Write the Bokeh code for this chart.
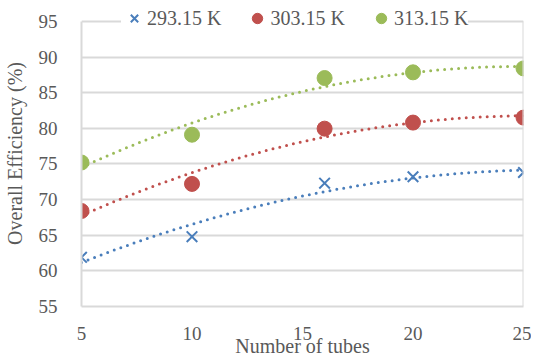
import numpy as np
from bokeh.plotting import figure
from bokeh.models import Legend, LegendItem, FixedTicker, Range1d
from bokeh.embed import file_html
from bokeh.resources import INLINE

x_tubes = [5, 10, 16, 20, 25]
eff_29315 = [61.9, 64.8, 72.3, 73.2, 73.8]
eff_30315 = [68.4, 72.2, 79.95, 80.8, 81.5]
eff_31315 = [75.2, 79.1, 87.05, 87.85, 88.4]
series_names = ["293.15 K", "303.15 K", "313.15 K"]
colors = ["#4a7ebb", "#c0504d", "#9bbb59"]
x_ticks = [5, 10, 15, 20, 25]
y_ticks = [55, 60, 65, 70, 75, 80, 85, 90, 95]
y_min, y_max = 55, 95

FONT = "'Liberation Serif', serif"
GREY = "#595959"

W, H = 531, 359
BL, BR, BB = 79, 8, 51
frame_h = H - BB
# extra headroom above the top gridline so the legend can sit over it
y_top = y_max + 21 * (y_max - y_min) / (frame_h - 21)

p = figure(width=W, height=H, output_backend="svg", toolbar_location=None,
           x_range=Range1d(5, 25), y_range=Range1d(y_min, y_top),
           min_border_left=BL, min_border_right=BR, min_border_top=0, min_border_bottom=BB)
p.outline_line_color = None

xs = np.linspace(5, 25, 200)
items = []
for ys, col in zip([eff_29315, eff_30315, eff_31315], colors):
    coef = np.polyfit(x_tubes, ys, 2)
    p.line(xs, np.polyval(coef, xs), line_color=col, line_width=3,
           line_dash="0 7", line_cap="round")
for i, (ys, col, name) in enumerate(zip([eff_29315, eff_30315, eff_31315], colors, series_names)):
    if i == 0:
        r = p.scatter(x_tubes, ys, marker="x", size=15, line_color=col, line_width=2)
    else:
        r = p.scatter(x_tubes, ys, marker="circle", size=15, fill_color=col, line_color=col)
    items.append(LegendItem(label=name, renderers=[r]))

# right border of the plot area
p.line([25, 25], [y_min, y_max], line_color="#d9d9d9", line_width=2)

legend = Legend(items=items, orientation="horizontal", location=(40, 275),
                label_text_font=FONT, label_text_font_size="20px", label_text_color=GREY,
                glyph_width=26, glyph_height=26, label_height=20, padding=1, margin=0,
                spacing=23, label_standoff=0, border_line_color=None,
                background_fill_color="white", background_fill_alpha=1.0)
p.add_layout(legend, "center")

p.xgrid.grid_line_color = None
p.ygrid.grid_line_color = "#d9d9d9"
p.ygrid.grid_line_width = 2
p.xaxis.ticker = FixedTicker(ticks=x_ticks)
p.yaxis.ticker = FixedTicker(ticks=y_ticks)
p.yaxis.bounds = (y_min, y_max)
for ax in (p.xaxis, p.yaxis):
    ax.axis_line_color = "#d9d9d9"
    ax.axis_line_width = 2
    ax.major_tick_line_color = None
    ax.minor_tick_line_color = None
    ax.major_label_text_font = FONT
    ax.major_label_text_font_size = "19px"
    ax.major_label_text_color = GREY
    ax.axis_label_text_font = FONT
    ax.axis_label_text_font_size = "20px"
    ax.axis_label_text_color = GREY
    ax.axis_label_text_font_style = "normal"
p.xaxis.axis_label = "Number of tubes"
p.yaxis.axis_label = "Overall Efficiency (%)"
p.xaxis.major_label_standoff = 14
p.xaxis.axis_label_standoff = -8
p.yaxis.major_label_standoff = 18
p.yaxis.axis_label_standoff = 10

open("out.html", "w").write(file_html(p, INLINE))
